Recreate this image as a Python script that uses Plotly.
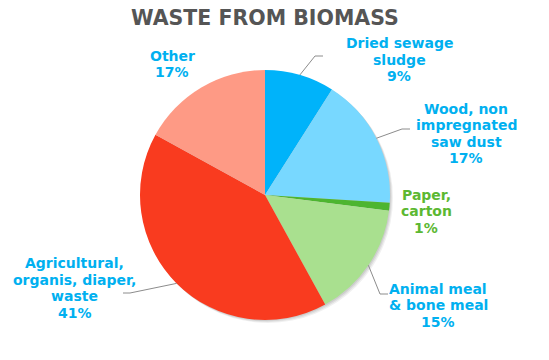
import math
import plotly.graph_objects as go

# ---- data ----
categories = ["Dried sewage sludge", "Wood, non impregnated saw dust", "Paper, carton",
              "Animal meal & bone meal", "Agricultural, organis, diaper, waste", "Other"]
label_lines = [["Dried sewage", "sludge"], ["Wood, non", "impregnated", "saw dust"],
               ["Paper,", "carton"], ["Animal meal", "& bone meal"],
               ["Agricultural,", "organis, diaper,", "waste"], ["Other"]]
values = [9, 17, 1, 15, 41, 17]

# ---- styles / layout ----
W, H = 549, 360
slice_colors = ["#00B3FA", "#78D8FF", "#4DB530", "#A9E08F", "#F93B1F", "#FE9A85"]
label_colors = ["#00B0F0", "#00B0F0", "#5CB832", "#00B0F0", "#00B0F0", "#00B0F0"]
cx, cy, R = 265, 195, 125          # pie centre / radius in pixels
FS = 14
LINE = 16.5
# (centre x, first baseline y) of each label block, pixels
label_pos = [(399, 48.3), (466, 114), (426, 200), (438, 294), (74.5, 268.3), (172, 60.7)]
# leader line: elbow point and end point (pixels); None = no leader
leaders = [((315, 56), (323, 56)), ((402, 129), (410, 129)), None,
           ((380, 294), (388, 294)), ((130, 293), (123, 293)), None]

def px(x):
    return x / W

def py(y):
    return 1 - y / H

fig = go.Figure()

# soft shadow
for off, op in [(3, 0.06), (2, 0.07), (1, 0.08)]:
    fig.add_trace(go.Pie(values=[1], marker=dict(colors=["#000000"]), opacity=op,
                         textinfo="none", hoverinfo="skip", showlegend=False,
                         domain=dict(x=[px(cx - R + off), px(cx + R + off)],
                                     y=[py(cy + R + off), py(cy - R + off)])))

fig.add_trace(go.Pie(
    labels=categories, values=values, sort=False, direction="clockwise", rotation=0,
    marker=dict(colors=slice_colors, line=dict(width=0)),
    textinfo="none", showlegend=False,
    domain=dict(x=[px(cx - R), px(cx + R)], y=[py(cy + R), py(cy - R)]),
))

total = sum(values)
cum = 0
annotations = []
shapes = []
for i, v in enumerate(values):
    mid = (cum + v / 2) / total * 2 * math.pi
    cum += v
    ex, ey = cx + R * math.sin(mid), cy - R * math.cos(mid)
    pct = round(v / total * 100)
    lines = label_lines[i] + [f"{pct}%"]
    lx, ly = label_pos[i]
    for k, t in enumerate(lines):
        base = ly + k * LINE
        annotations.append(dict(
            x=px(lx), y=py(base - 0.36 * FS), xref="paper", yref="paper",
            text=f"<b>{t}</b>", showarrow=False,
            font=dict(family="DejaVu Sans", size=FS, color=label_colors[i]),
            xanchor="center", yanchor="middle"))
    if leaders[i]:
        (bx, by), (tx, ty) = leaders[i]
        shapes.append(dict(type="path", xref="paper", yref="paper",
                           path=f"M {px(ex)} {py(ey)} L {px(bx)} {py(by)} L {px(tx)} {py(ty)}",
                           line=dict(color="#8C8C8C", width=1)))

annotations.append(dict(x=px(265), y=py(17.5), xref="paper", yref="paper",
                        text="<b>WASTE FROM BIOMASS</b>", showarrow=False,
                        font=dict(family="DejaVu Sans", size=20.5, color="#555555"),
                        xanchor="center", yanchor="middle"))

fig.update_layout(width=W, height=H, margin=dict(l=0, r=0, t=0, b=0),
                  paper_bgcolor="white", plot_bgcolor="white",
                  annotations=annotations, shapes=shapes)
fig.write_html("out.html", config={"displayModeBar": False},
               post_script="document.body.style.margin='0';")
